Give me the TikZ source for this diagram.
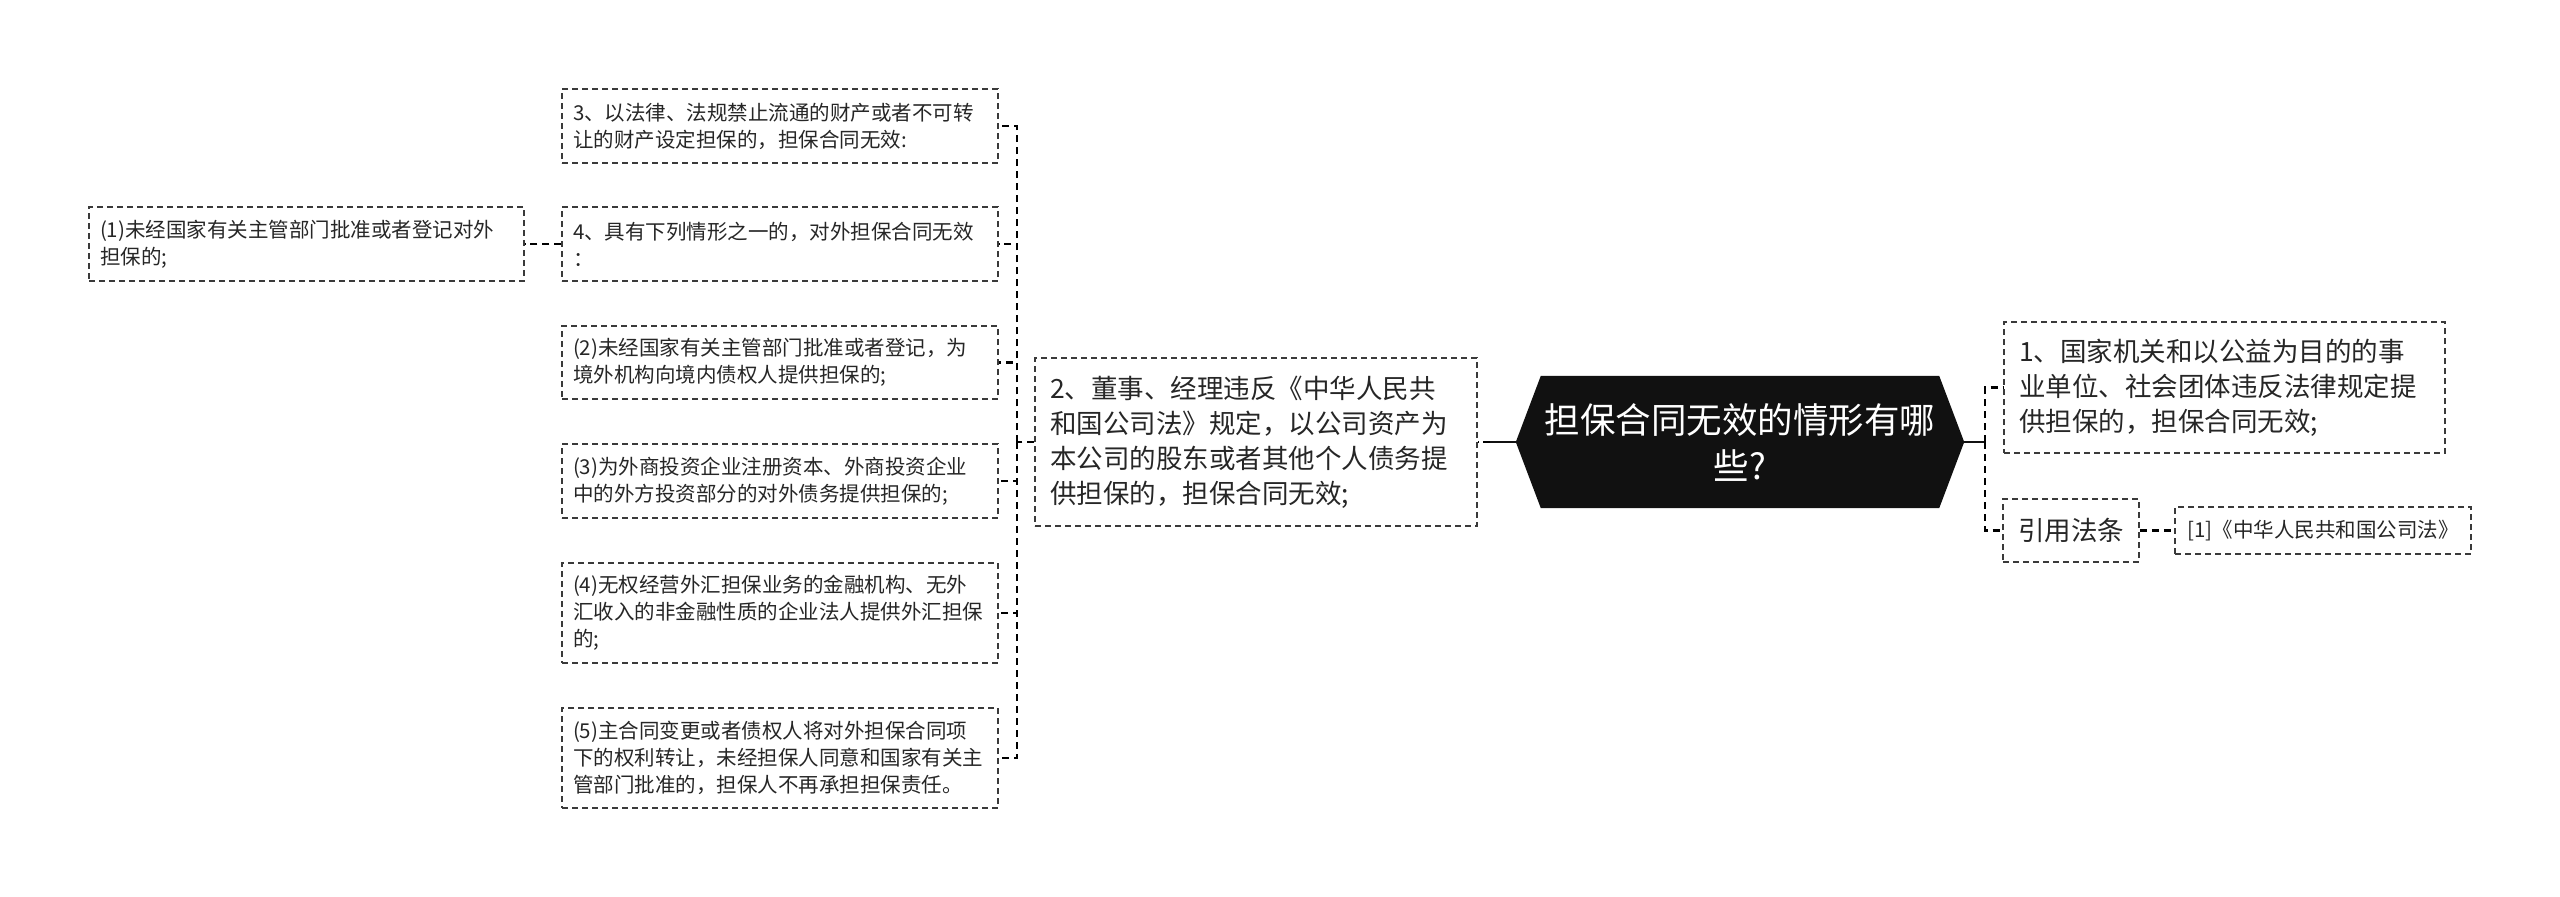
\documentclass[tikz,border=0pt]{standalone}
\usepackage{fontspec}
\newfontfamily\cjk{Noto Sans CJK SC}
\usepackage{tikz}
\usetikzlibrary{backgrounds}
\definecolor{ink}{HTML}{262626}
\definecolor{rim}{HTML}{3A3A3A}
\definecolor{rootfill}{HTML}{111111}

\begin{document}
\begin{tikzpicture}[x=1pt,y=-1pt]
\tikzstyle{leaf} = [draw=rim,dash pattern=on 6pt off 4pt,line width=1.5pt,text=ink,align=left,inner xsep=11pt,inner ysep=0pt,font=\cjk\fontsize{20.5}{27}\selectfont];
\tikzstyle{sub} = [leaf,text width=414pt,minimum height=74pt];
\tikzstyle{item} = [leaf,inner xsep=15pt,font=\cjk\fontsize{26.5}{35}\selectfont];
\tikzstyle{hub} = [text=white,align=center,inner sep=0pt,minimum width=398pt,minimum height=132pt,font=\cjk\fontsize{35.5}{46}\selectfont];
\tikzstyle{twig} = [draw=black,dash pattern=on 7pt off 5pt,line width=2.2pt];
\tikzstyle{trunk} = [draw=rootfill,line width=2.5pt];
\useasboundingbox (0,0) rectangle (2560,897);

\node [hub] (v0) at (1740,442) {担保合同无效的情形有哪\\些?};
\begin{scope}[on background layer]
\fill [rootfill] (v0.north west) -- (v0.north east) -- ([xshift=25pt]v0.east) -- (v0.south east) -- (v0.south west) -- ([xshift=-25pt]v0.west) -- cycle;
\end{scope}
\coordinate (tl) at ([xshift=-25pt]v0.west);
\coordinate (tr) at ([xshift=25pt]v0.east);

% right side
\node [item,text width=411pt,minimum height=131pt] (v1) at (2224.5,387.5) {1、国家机关和以公益为目的的事\\业单位、社会团体违反法律规定提\\供担保的，担保合同无效;};
\node [item,minimum width=134pt,minimum height=63pt] (v10) at (2071,530.5) {引用法条};
\node [leaf,minimum width=296pt,minimum height=47pt] (v11) at (2323,530.5) {[1]《中华人民共和国公司法》};

% left side
\node [item,text width=412pt,minimum height=168pt] (v2) at (1256,442) {2、董事、经理违反《中华人民共\\和国公司法》规定，以公司资产为\\本公司的股东或者其他个人债务提\\供担保的，担保合同无效;};
\node [sub] (v3) at (780,126) {3、以法律、法规禁止流通的财产或者不可转\\让的财产设定担保的，担保合同无效:};
\node [sub] (v4) at (780,244) {4、具有下列情形之一的，对外担保合同无效\\：};
\node [sub,text width=413pt] (v5) at (306.5,244) {(1)未经国家有关主管部门批准或者登记对外\\担保的;};
\node [sub,minimum height=73pt] (v6) at (780,362.5) {(2)未经国家有关主管部门批准或者登记，为\\境外机构向境内债权人提供担保的;};
\node [sub] (v7) at (780,481) {(3)为外商投资企业注册资本、外商投资企业\\中的外方投资部分的对外债务提供担保的;};
\node [sub,minimum height=100pt] (v8) at (780,613) {(4)无权经营外汇担保业务的金融机构、无外\\汇收入的非金融性质的企业法人提供外汇担保\\的;};
\node [sub,minimum height=100pt] (v9) at (780,758) {(5)主合同变更或者债权人将对外担保合同项\\下的权利转让，未经担保人同意和国家有关主\\管部门批准的，担保人不再承担担保责任。};

\coordinate (j1) at (1490,442);
\coordinate (b1) at (1017,442);
\coordinate (b2) at (1985,442);
\draw [trunk] (tl) -- (j1);
\draw [twig] (j1) -- (v2.east);
\draw [twig] (v2.west) -- (b1);
\foreach \v in {v3,v4,v6,v7,v8,v9}
  \draw [twig] (b1) |- (\v.east);
\draw [twig] (v4.west) -- (v5.east);

\draw [trunk] (tr) -- (b2);
\draw [twig] (b2) |- (v1.west);
\draw [twig] (b2) |- (v10.west);
\draw [twig] (v10.east) -- (v11.west);
\end{tikzpicture}
\end{document}
